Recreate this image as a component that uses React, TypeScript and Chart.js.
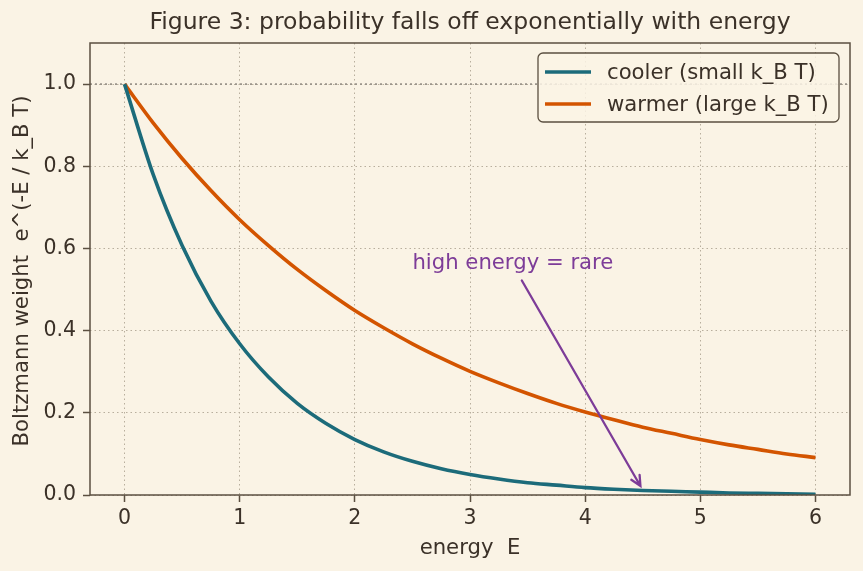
import React, { useEffect, useRef } from "react";
import { Chart, registerables } from "chart.js";

Chart.register(...registerables);

// Energy samples and the two Boltzmann weight curves
const energies = [
  0, 0.25, 0.5, 0.75, 1, 1.25, 1.5, 1.75, 2, 2.25, 2.5, 2.75, 3, 3.25, 3.5,
  3.75, 4, 4.25, 4.5, 4.75, 5, 5.25, 5.5, 5.75, 6,
];
const coolerWeights = [
  1.0, 0.779, 0.607, 0.472, 0.368, 0.287, 0.223, 0.174, 0.135, 0.105, 0.082,
  0.064, 0.05, 0.039, 0.03, 0.024, 0.018, 0.014, 0.011, 0.009, 0.007, 0.005,
  0.004, 0.003, 0.002,
];
const warmerWeights = [
  1.0, 0.905, 0.819, 0.741, 0.67, 0.607, 0.549, 0.497, 0.449, 0.407, 0.368,
  0.333, 0.301, 0.273, 0.247, 0.223, 0.202, 0.183, 0.165, 0.15, 0.135, 0.122,
  0.111, 0.1, 0.091,
];

const seriesLabels = ["cooler (small k_B T)", "warmer (large k_B T)"];
const xTicks = [0, 1, 2, 3, 4, 5, 6];
const yTicks = [0, 0.2, 0.4, 0.6, 0.8, 1.0];

const titleText = "Figure 3: probability falls off exponentially with energy";
const xLabel = "energy  E";
const yLabel = "Boltzmann weight  e^(-E / k_B T)";

const noteText = "high energy = rare";
const noteTextAt = { x: 2.5, y: 0.55 };
const noteArrowFrom = { x: 3.45, y: 0.522 };
const noteArrowTo = { x: 4.48, y: 0.022 };

const BG = "#faf3e5";
const INK = "#3b3128";
const SPINE = "#5b4f40";
const GRID = "#b8ae9d";
const COOL = "#1c6b7a";
const WARM = "#d35400";
const NOTE = "#7d3c98";
const FONT = "'DejaVu Sans', sans-serif";
const LABEL_SIZE = 21.2;

const decorations = {
  id: "decorations",
  beforeDraw(chart: any) {
    const { ctx, width, height } = chart;
    ctx.save();
    ctx.fillStyle = BG;
    ctx.fillRect(0, 0, width, height);
    ctx.restore();
  },
  beforeDatasetsDraw(chart: any) {
    const { ctx, chartArea, scales } = chart;
    const y1 = scales.y.getPixelForValue(1.0);
    ctx.save();
    ctx.strokeStyle = "#9a948a";
    ctx.lineWidth = 1.6;
    ctx.setLineDash([2, 3]);
    ctx.beginPath();
    ctx.moveTo(chartArea.left, y1);
    ctx.lineTo(chartArea.right, y1);
    ctx.stroke();
    ctx.restore();
  },
  afterDraw(chart: any) {
    const { ctx, chartArea, scales } = chart;
    const { left, right, top, bottom } = chartArea;
    ctx.save();

    // frame around the plot area
    ctx.strokeStyle = SPINE;
    ctx.lineWidth = 1.5;
    ctx.strokeRect(left, top, right - left, bottom - top);

    // title
    ctx.fillStyle = INK;
    ctx.font = `23.5px ${FONT}`;
    ctx.textAlign = "center";
    ctx.textBaseline = "middle";
    ctx.fillText(titleText, (left + right) / 2, 23);

    // axis labels
    ctx.font = `${LABEL_SIZE}px ${FONT}`;
    ctx.fillText(xLabel, (left + right) / 2, 548);
    ctx.save();
    ctx.translate(22, (top + bottom) / 2 + 2);
    ctx.rotate(-Math.PI / 2);
    ctx.fillText(yLabel, 0, 0);
    ctx.restore();

    // annotation with arrow
    const sx = scales.x.getPixelForValue(noteArrowFrom.x);
    const sy = scales.y.getPixelForValue(noteArrowFrom.y);
    const ex = scales.x.getPixelForValue(noteArrowTo.x);
    const ey = scales.y.getPixelForValue(noteArrowTo.y);
    ctx.strokeStyle = NOTE;
    ctx.lineWidth = 2.3;
    ctx.lineCap = "round";
    ctx.beginPath();
    ctx.moveTo(sx, sy);
    ctx.lineTo(ex, ey);
    const ang = Math.atan2(ey - sy, ex - sx);
    const hl = 11;
    const hw = 0.45;
    ctx.moveTo(ex - hl * Math.cos(ang - hw), ey - hl * Math.sin(ang - hw));
    ctx.lineTo(ex, ey);
    ctx.lineTo(ex - hl * Math.cos(ang + hw), ey - hl * Math.sin(ang + hw));
    ctx.stroke();
    ctx.fillStyle = NOTE;
    ctx.font = `${LABEL_SIZE}px ${FONT}`;
    ctx.textAlign = "left";
    ctx.textBaseline = "alphabetic";
    ctx.fillText(
      noteText,
      scales.x.getPixelForValue(noteTextAt.x),
      scales.y.getPixelForValue(noteTextAt.y)
    );

    // legend
    const bx = 538, by = 53, bw = 301, bh = 69, r = 5;
    ctx.beginPath();
    ctx.moveTo(bx + r, by);
    ctx.arcTo(bx + bw, by, bx + bw, by + bh, r);
    ctx.arcTo(bx + bw, by + bh, bx, by + bh, r);
    ctx.arcTo(bx, by + bh, bx, by, r);
    ctx.arcTo(bx, by, bx + bw, by, r);
    ctx.closePath();
    ctx.fillStyle = "rgba(250,243,229,0.85)";
    ctx.fill();
    ctx.strokeStyle = SPINE;
    ctx.lineWidth = 1.3;
    ctx.stroke();
    const rows = [
      { label: seriesLabels[0], color: COOL, y: 72 },
      { label: seriesLabels[1], color: WARM, y: 104 },
    ];
    ctx.font = `${LABEL_SIZE}px ${FONT}`;
    ctx.textBaseline = "middle";
    ctx.lineCap = "butt";
    for (const row of rows) {
      ctx.strokeStyle = row.color;
      ctx.lineWidth = 3.5;
      ctx.beginPath();
      ctx.moveTo(545, row.y);
      ctx.lineTo(591, row.y);
      ctx.stroke();
      ctx.fillStyle = INK;
      ctx.fillText(row.label, 607, row.y + 1);
    }
    ctx.restore();
  },
};

export default function App() {
  const canvasRef = useRef<HTMLCanvasElement | null>(null);

  useEffect(() => {
    const canvas = canvasRef.current;
    if (!canvas) return;
    const toPoints = (vals: number[]) =>
      energies.map((e, i) => ({ x: e, y: vals[i] }));

    const tickFont = { family: FONT, size: 20.5 };

    const chart = new Chart(canvas, {
      type: "line",
      data: {
        datasets: [
          {
            label: seriesLabels[0],
            data: toPoints(coolerWeights),
            borderColor: COOL,
            borderWidth: 3.6,
            pointRadius: 0,
            cubicInterpolationMode: "monotone",
          },
          {
            label: seriesLabels[1],
            data: toPoints(warmerWeights),
            borderColor: WARM,
            borderWidth: 3.6,
            pointRadius: 0,
            cubicInterpolationMode: "monotone",
          },
        ],
      },
      options: {
        animation: false,
        responsive: false,
        maintainAspectRatio: false,
        devicePixelRatio: 1,
        layout: { padding: { top: 43, right: 13, left: 0, bottom: 0 } },
        plugins: {
          legend: { display: false },
          title: { display: false },
          tooltip: { enabled: false },
        },
        scales: {
          x: {
            type: "linear",
            min: -0.3,
            max: 6.3,
            afterBuildTicks: (scale: any) => {
              scale.ticks = xTicks.map((v) => ({ value: v }));
            },
            afterFit: (scale: any) => {
              scale.height = 76;
            },
            grid: {
              color: GRID,
              lineWidth: 1,
              drawTicks: true,
              tickLength: 7,
              tickColor: SPINE,
              tickWidth: 1.5,
              tickBorderDash: [],
            },
            border: { display: false, dash: [1.5, 3] },
            ticks: {
              color: INK,
              font: tickFont,
              padding: 4,
              maxRotation: 0,
              callback: (v: any) => String(v),
            },
          },
          y: {
            type: "linear",
            min: 0,
            max: 1.1,
            afterBuildTicks: (scale: any) => {
              scale.ticks = yTicks.map((v) => ({ value: v }));
            },
            afterFit: (scale: any) => {
              scale.width = 90;
            },
            grid: {
              color: GRID,
              lineWidth: 1,
              drawTicks: true,
              tickLength: 7,
              tickColor: SPINE,
              tickWidth: 1.5,
              tickBorderDash: [],
            },
            border: { display: false, dash: [1.5, 3] },
            ticks: {
              color: INK,
              font: tickFont,
              padding: 7,
              callback: (v: any) => Number(v).toFixed(1),
            },
          },
        },
      },
      plugins: [decorations],
    } as any);

    return () => chart.destroy();
  }, []);

  return (
    <div style={{ position: "fixed", left: 0, top: 0, width: 863, height: 571 }}>
      <canvas ref={canvasRef} width={863} height={571} />
    </div>
  );
}
